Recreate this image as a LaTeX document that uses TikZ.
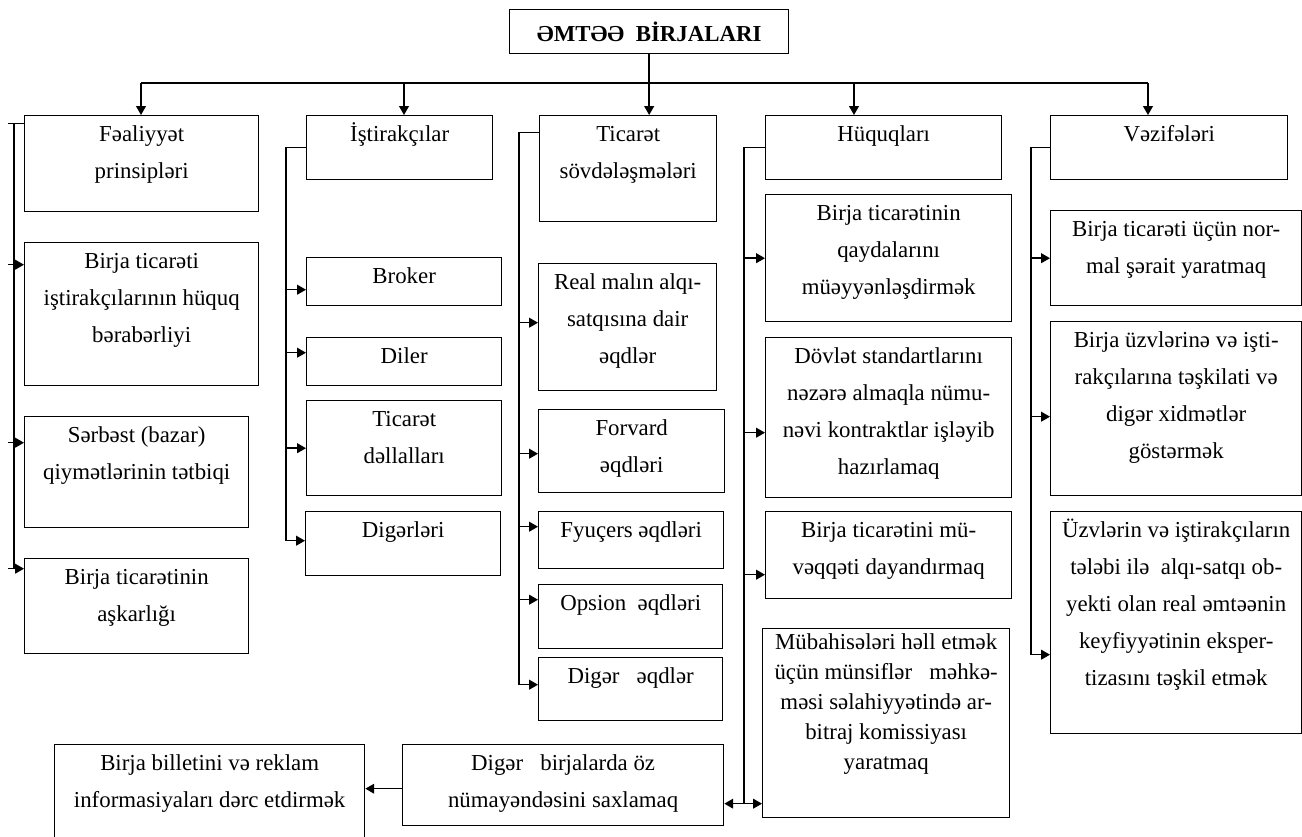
\documentclass[tikz,border=0pt]{standalone}
\usepackage{fontspec}
\setmainfont{Liberation Serif}
\usetikzlibrary{arrows.meta}

\newlength{\px}
\setlength{\px}{0.2mm}
% box text: width, height (px), lines
\newcommand{\cellbox}[3]{\parbox[t][#2\px][t]{#1\px}{\centering\strut #3}}

\begin{document}
\begin{tikzpicture}[x=0.02cm, y=-0.02cm]
          \tikzset{
            Box/.style = { draw, line width=0.8pt, anchor=north west,
              inner sep=0pt, font=\fontsize{13}{21}\selectfont },
            Link/.style = { line width=0.8pt },
            >={Triangle[length=5pt, width=5.5pt]} }
          \useasboundingbox (0,0) rectangle (1302,836);

          \node[Box, font=\fontsize{13}{15}\selectfont\bfseries,
            minimum width=279\px, minimum height=44\px] (BIRJA) at (509,9) {ƏMTƏƏ\ \ BİRJALARI};

          \node[Box] (FEAL) at (24,115) {\cellbox{234}{96}{Fəaliyyət\\prinsipləri}};
          \node[Box] (ISTIR) at (306,115) {\cellbox{186}{64}{İştirakçılar}};
          \node[Box] (TICAR) at (539,115) {\cellbox{177}{106}{Ticarət\\sövdələşmələri}};
          \node[Box] (HUQUQ) at (765,115) {\cellbox{236}{64}{Hüquqları}};
          \node[Box] (VEZIF) at (1050,115) {\cellbox{237}{64}{Vəzifələri}};

          \node[Box] (PRIN1) at (24,242) {\cellbox{234}{143}{Birja ticarəti\\iştirakçılarının hüquq\\bərabərliyi}};
          \node[Box] (PRIN2) at (24,416) {\cellbox{224}{111}{Sərbəst (bazar)\\qiymətlərinin tətbiqi}};
          \node[Box] (PRIN3) at (24,558) {\cellbox{224}{95}{Birja ticarətinin\\aşkarlığı}};

          \node[Box] (BROKER) at (306,257) {\cellbox{195}{48}{Broker}};
          \node[Box] (DILER) at (306,337) {\cellbox{195}{48}{Diler}};
          \node[Box] (DELLAL) at (306,400) {\cellbox{195}{95}{Ticarət\\dəllalları}};
          \node[Box] (DIGER) at (305,511) {\cellbox{195}{64}{Digərləri}};

          \node[Box] (REAL) at (538,263) {\cellbox{178}{127}{Real malın alqı-\\satqısına dair\\əqdlər}};
          \node[Box] (FORVARD) at (538,409) {\cellbox{186}{83}{Forvard\\əqdləri}};
          \node[Box] (FYUCERS) at (538,511) {\cellbox{185}{57}{Fyuçers əqdləri}};
          \node[Box] (OPSION) at (538,584) {\cellbox{184}{64}{Opsion\ \ əqdləri}};
          \node[Box] (DIGERE) at (538,657) {\cellbox{184}{63}{Digər\ \ \ əqdlər}};

          \node[Box] (QAYDA) at (765,194) {\cellbox{246}{127}{Birja ticarətinin\\qaydalarını\\müəyyənləşdirmək}};
          \node[Box] (STANDART) at (765,337) {\cellbox{246}{160}{Dövlət standartlarını\\nəzərə almaqla nümu-\\nəvi kontraktlar işləyib\\hazırlamaq}};
          \node[Box] (DAYAN) at (765,511) {\cellbox{246}{87}{Birja ticarətini mü-\\vəqqəti dayandırmaq}};
          \node[Box, font=\fontsize{13}{17}\selectfont] (ARBITRAJ) at (762,628) {\cellbox{247}{189}{Mübahisələri həll etmək\\üçün münsiflər\ \ \ məhkə-\\məsi səlahiyyətində ar-\\bitraj komissiyası\\yaratmaq}};
          \node[Box] (NUMAY) at (402,744) {\cellbox{321}{81}{Digər\ \ \ birjalarda öz\\nümayəndəsini saxlamaq}};
          \node[Box] (BILLET) at (54,744) {\cellbox{310}{101}{Birja billetini və reklam\\informasiyaları dərc etdirmək}};

          \node[Box] (NORMAL) at (1050,210) {\cellbox{251}{95}{Birja ticarəti üçün nor-\\mal şərait yaratmaq}};
          \node[Box] (XIDMET) at (1050,321) {\cellbox{251}{174}{Birja üzvlərinə və işti-\\rakçılarına təşkilati və\\digər xidmətlər\\göstərmək}};
          \node[Box] (EKSPERT) at (1050,511) {\cellbox{251}{222}{Üzvlərin və iştirakçıların\\tələbi ilə\ \ alqı-satqı ob-\\yekti olan real əmtəənin\\keyfiyyətinin eksper-\\tizasını təşkil etmək}};

          % top bar
          \coordinate (b1) at (141,83);
          \coordinate (b2) at (404,83);
          \coordinate (b3) at (BIRJA.south |- b1);
          \coordinate (b4) at (854,83);
          \coordinate (b5) at (1148,83);
          \draw[Link] (BIRJA.south) -- (b3);
          \draw[Link] (b1) -- (b5);
          \foreach \tp/\tn in {b1/FEAL, b2/ISTIR, b3/TICAR, b4/HUQUQ, b5/VEZIF}
            \draw[Link,->] (\tp) -- (\tp |- \tn.north);

          % branch lines
          \coordinate (tP) at (8,0);
          \coordinate (bP) at (14,0);
          \coordinate (bI) at (286,0);
          \coordinate (bT) at (519,0);
          \coordinate (bH) at (744,0);
          \coordinate (bV) at (1031,0);

          \draw[Link] ([yshift=40\px]FEAL.west -| tP) -- ([yshift=40\px]FEAL.west);
          \draw[Link] ([yshift=40\px]FEAL.west -| bP) -- ([yshift=37.5\px]PRIN3.west -| bP);
          \foreach \n/\dy in {PRIN1/49.5, PRIN2/29.5, PRIN3/37.5}
            \draw[Link,->] ([yshift=\dy\px]\n.west -| tP) -- ([yshift=\dy\px]\n.west);

          \draw[Link] (ISTIR.west) -| ([yshift=3\px]DIGER.west -| bI);
          \foreach \n/\dy in {BROKER/-8, DILER/9, DELLAL/0, DIGER/3}
            \draw[Link,->] ([yshift=\dy\px]\n.west -| bI) -- ([yshift=\dy\px]\n.west);

          \draw[Link] ([yshift=36\px]TICAR.west) -| ([yshift=4.5\px]DIGERE.west -| bT);
          \foreach \n/\dy in {REAL/4.5, FORVARD/-2.5, FYUCERS/13.5, OPSION/17, DIGERE/4.5}
            \draw[Link,->] ([yshift=\dy\px]\n.west -| bT) -- ([yshift=\dy\px]\n.west);

          \draw[Link] (HUQUQ.west) -| ([yshift=-80.5\px]ARBITRAJ.west -| bH);
          \foreach \n/\dy in {QAYDA/0, STANDART/-15, DAYAN/-19.5}
            \draw[Link,->] ([yshift=\dy\px]\n.west -| bH) -- ([yshift=\dy\px]\n.west);
          \draw[Link,<->] ([yshift=-80.5\px]ARBITRAJ.west -| NUMAY.east) -- ([yshift=-80.5\px]ARBITRAJ.west);
          \draw[Link,->] ([yshift=-3.5\px]NUMAY.west) -- ([yshift=-3.5\px]NUMAY.west -| BILLET.east);

          \draw[Link] (VEZIF.west) -| ([yshift=-32\px]EKSPERT.west -| bV);
          \foreach \n/\dy in {NORMAL/0, XIDMET/-8, EKSPERT/-32}
            \draw[Link,->] ([yshift=\dy\px]\n.west -| bV) -- ([yshift=\dy\px]\n.west);
\end{tikzpicture}
\end{document}
